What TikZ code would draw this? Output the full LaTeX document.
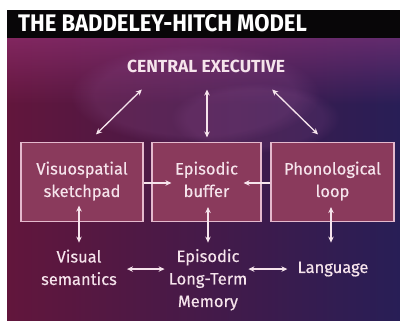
\documentclass[tikz,border=0pt]{standalone}
\usepackage{fontspec}
\setmainfont{Fira Sans}
\newfontfamily\bodyfont{Fira Sans}[FakeBold=0.35]
\newfontfamily\titlefont{Fira Sans}[FakeStretch=0.92]
\usetikzlibrary{arrows.meta,calc,fadings}
\definecolor{bgL}{RGB}{98,22,60}
\definecolor{bgM}{RGB}{78,26,78}
\definecolor{bgR}{RGB}{40,30,86}
\definecolor{glow}{RGB}{170,60,140}
\definecolor{cloud}{RGB}{150,85,150}
\definecolor{boxfill}{RGB}{138,58,92}
\definecolor{boxline}{RGB}{228,185,205}
\definecolor{fg}{RGB}{246,228,236}
\definecolor{bar}{RGB}{8,6,8}
\tikzfading[name=fadedown, top color=transparent!20, bottom color=transparent!100]
\begin{document}
\begin{tikzpicture}[x=1pt,y=-1pt,
  txt/.style={text=fg, font=\bodyfont\fontsize{16.5}{22.5}\selectfont, align=center, inner sep=0pt},
  stage/.style={draw=boxline, line width=1.2pt, fill=boxfill,
    minimum height=79pt, inner sep=0pt},
  tip/.tip={Stealth[length=6pt,width=5.5pt]},
  both/.style={draw=fg, line width=1.3pt, {tip}-{tip}},
  one/.style={draw=fg, line width=1.3pt, -{tip}}
]
\useasboundingbox (0,0) rectangle (400,321);
\fill[white] (0,0) rectangle (400,321);
% background
\shade[left color=bgL, middle color=bgM, right color=bgR] (7,38) rectangle (400,321);
\fill[glow, path fading=fadedown, opacity=0.55] (7,38) rectangle (400,105);
\fill[cloud, path fading=circle with fuzzy edge 20 percent, opacity=0.2] (195,95) ellipse (125pt and 50pt);
\fill[cloud, path fading=circle with fuzzy edge 20 percent, opacity=0.16] (255,118) ellipse (85pt and 35pt);
\fill[bar] (7,10) rectangle (400,38);
% title
\node[anchor=base west, inner sep=0pt, text=white,
  font=\titlefont\bfseries\fontsize{24}{24}\selectfont] (title) at (18,32) {THE BADDELEY-HITCH MODEL};
% central executive
\node[anchor=base, inner sep=0pt, text=fg,
  font=\bfseries\fontsize{17.5}{18}\selectfont] (ce) at (206,73) {CENTRAL EXECUTIVE};
% boxes
\node[stage, minimum width=122pt] (vs) at (82,182) {};
\node[stage, minimum width=109pt] (eb) at (206.5,182) {};
\node[stage, minimum width=123pt] (pl) at (332.5,182) {};
\node[txt, anchor=base] (vst) at (82,197) {Visuospatial\\sketchpad};
\node[txt, anchor=base] (ebt) at (206.5,197) {Episodic\\buffer};
\node[txt, anchor=base] (plt) at (332.5,197) {Phonological\\loop};
% bottom labels
\node[txt, anchor=base] (vsem) at (79,285) {Visual\\semantics};
\node[txt, anchor=base] (eltm) at (208,307) {Episodic\\Long-Term\\Memory};
\node[txt, anchor=base] (lang) at (333,273) {Language};
% free ends of the bottom links
\coordinate (v1) at ($(vsem.east)+(10,0)$);
\coordinate (e1) at ($(eltm.west)+(-4,0)$);
\coordinate (e2) at ($(eltm.east)+(1,0)$);
% arrows from central executive
\draw[both] ($(ce.south west)+(15,16)$) -- ($(vs.north)+(14,-7.5)$);
\draw[both] ($(ce.south)+(1,16)$) -- ($(eb.north)+(0.5,-4.5)$);
\draw[both] ($(ce.south east)+(-13,16)$) -- ($(pl.north)+(-14.5,-7.5)$);
% arrows into the buffer
\draw[one] ($(vs.east)+(0,1)$) -- ($(eb.west)+(20,1)$);
\draw[one] ($(pl.west)+(0,1)$) -- ($(eb.east)+(-18,1)$);
% arrows to long-term stores
\draw[both] ($(vs.south)+(-3,-16.5)$) -- ($(vs.south)+(-3,20.5)$);
\draw[both] ($(eb.south)+(1.5,-15)$) -- ($(eb.south)+(1.5,20.5)$);
\draw[both] ($(pl.south)+(-1.5,-15)$) -- ($(pl.south)+(-1.5,20.5)$);
% horizontal long-term links
\draw[both] (v1 |- lang) -- (e1 |- lang);
\draw[both] (e2 |- lang) -- ($(lang.west)+(-10,0)$);
\end{tikzpicture}
\end{document}
